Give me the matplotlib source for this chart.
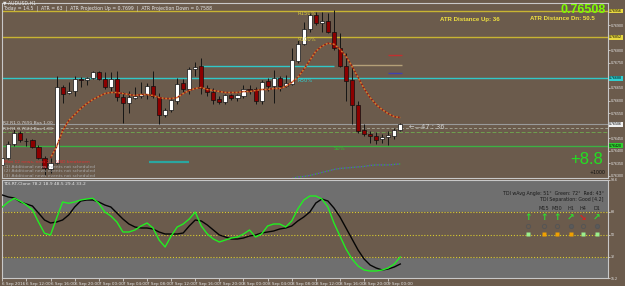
import matplotlib
matplotlib.use("Agg")
import matplotlib.pyplot as plt
import numpy as np

# ---------------- data ----------------
opens  = [0.76344,0.76372,0.76428,0.76472,0.76440,0.76444,0.76416,0.76372,0.76328,0.76352,
          0.76652,0.76632,0.76640,0.76684,0.76680,0.76688,0.76712,0.76684,0.76652,0.76684,
          0.76616,0.76592,0.76612,0.76620,0.76628,0.76656,0.76616,0.76544,0.76564,0.76600,
          0.76668,0.76644,0.76724,0.76736,0.76648,0.76636,0.76608,0.76596,0.76624,0.76612,
          0.76620,0.76644,0.76644,0.76600,0.76676,0.76656,0.76688,0.76656,0.76664,0.76756,
          0.76824,0.76884,0.76940,0.76908,0.76916,0.76872,0.76808,0.76736,0.76680,0.76584,
          0.76484,0.76468,0.76460,0.76448,0.76456,0.76460,0.76484]
highs  = [0.76384,0.76440,0.76488,0.76480,0.76452,0.76448,0.76424,0.76380,0.76372,0.76696,
          0.76660,0.76672,0.76696,0.76692,0.76692,0.76716,0.76716,0.76712,0.76712,0.76716,
          0.76636,0.76640,0.76652,0.76672,0.76668,0.76716,0.76632,0.76572,0.76608,0.76688,
          0.76684,0.76732,0.76752,0.76768,0.76660,0.76648,0.76620,0.76628,0.76628,0.76628,
          0.76660,0.76660,0.76652,0.76680,0.76688,0.76720,0.76696,0.76700,0.76808,0.76844,
          0.76912,0.76952,0.76952,0.76952,0.76948,0.76960,0.76868,0.76788,0.76732,0.76600,
          0.76508,0.76480,0.76476,0.76468,0.76480,0.76492,0.76512]
lows   = [0.76336,0.76368,0.76420,0.76436,0.76420,0.76412,0.76368,0.76304,0.76312,0.76348,
          0.76592,0.76628,0.76620,0.76652,0.76660,0.76684,0.76680,0.76644,0.76640,0.76600,
          0.76512,0.76552,0.76608,0.76612,0.76608,0.76612,0.76508,0.76536,0.76556,0.76588,
          0.76636,0.76628,0.76696,0.76628,0.76620,0.76588,0.76588,0.76588,0.76604,0.76600,
          0.76612,0.76628,0.76588,0.76588,0.76640,0.76592,0.76640,0.76652,0.76660,0.76748,
          0.76820,0.76872,0.76900,0.76872,0.76868,0.76800,0.76732,0.76600,0.76508,0.76472,
          0.76460,0.76432,0.76428,0.76432,0.76424,0.76448,0.76480]
closes = [0.76372,0.76428,0.76472,0.76444,0.76438,0.76416,0.76372,0.76332,0.76352,0.76652,
          0.76628,0.76640,0.76684,0.76682,0.76688,0.76712,0.76684,0.76652,0.76684,0.76616,
          0.76592,0.76616,0.76620,0.76628,0.76656,0.76620,0.76544,0.76564,0.76604,0.76664,
          0.76644,0.76724,0.76732,0.76648,0.76636,0.76604,0.76596,0.76624,0.76612,0.76624,
          0.76644,0.76642,0.76600,0.76672,0.76656,0.76688,0.76656,0.76668,0.76760,0.76824,
          0.76884,0.76940,0.76908,0.76916,0.76872,0.76808,0.76736,0.76676,0.76584,0.76480,
          0.76468,0.76460,0.76444,0.76456,0.76464,0.76484,0.76508]

ma_start = 8
ma_values = [0.76372,0.76416,0.76480,0.76520,0.76544,0.76568,0.76588,0.76604,0.76616,0.76628,
             0.76632,0.76632,0.76628,0.76624,0.76620,0.76624,0.76624,0.76620,0.76612,0.76608,
             0.76608,0.76612,0.76628,0.76640,0.76648,0.76652,0.76644,0.76640,0.76636,0.76632,
             0.76632,0.76632,0.76636,0.76636,0.76640,0.76644,0.76644,0.76648,0.76648,0.76656,
             0.76672,0.76692,0.76724,0.76760,0.76796,0.76816,0.76828,0.76824,0.76804,0.76776,
             0.76736,0.76692,0.76648,0.76612,0.76584,0.76564,0.76548,0.76536,0.76532]

low_start = 48
low_curve = [0.76290,0.76296,0.76298,0.76302,0.76308,0.76314,0.76320,0.76326,0.76330,0.76332,
             0.76334,0.76336,0.76338,0.76342,0.76344,0.76344,0.76344,0.76346,0.76348]

tdi_green = [72,76,79,76.6,73.6,69.6,60,51,49.6,63,76,75,76,77.6,78.4,79,75,68,64.8,60,
             52,52,53.6,56.8,59.2,55.2,45.6,40,48.8,56,58.4,62.4,68,56.8,50.4,46.4,44,45.6,47.2,48,
             50.4,53.6,48,50.4,56.8,58.4,58.4,56,60.8,70.4,77.6,80.8,80.8,78.4,72,59.2,48.8,38.4,30.4,24.8,
             21.6,20.8,20.8,21.6,23.2,26.4,32]
tdi_signal = [81.6,80,79.2,76,74.4,72.8,67.2,61.6,59.2,60,61.6,65.6,72,76.8,77.6,77.6,76,73.6,72,67.2,
              62.4,58.4,56,55.2,55.2,54.4,52,50.4,50.4,50.4,51.2,56.8,61.6,60.8,57.6,53.6,49.6,48,46.4,46.4,
              47.2,48.8,49.6,51.2,52,52.8,54.4,55.2,56.8,60.8,64,68,75.2,78.4,76.8,71.2,64,55.2,46.4,37.6,
              30.4,25.6,23.2,21.6,22.4,24,26.4]

atr_up, atr_dn = 0.76956, 0.76852
pivot_cyan = 0.76688
pivot_cyan_short = 0.76736
cur_line = 0.76506
green_level = 0.76420
teal_level = 0.76356
red_short, blue_short = 0.76780, 0.76708

time_labels = ["6 Sep 2016", "6 Sep 12:00", "6 Sep 16:00", "6 Sep 20:00", "7 Sep 00:00",
               "7 Sep 04:00", "7 Sep 08:00", "7 Sep 12:00", "7 Sep 16:00", "7 Sep 20:00",
               "8 Sep 00:00", "8 Sep 04:00", "8 Sep 08:00", "8 Sep 12:00", "8 Sep 16:00",
               "8 Sep 20:00", "9 Sep 00:00"]
time_ticks = list(range(0, 65, 4))

price_ticks = [0.7630, 0.7635, 0.7640, 0.7645, 0.7650, 0.7655, 0.7660, 0.7665,
               0.7670, 0.7675, 0.7680, 0.7685, 0.7690, 0.7695]

tf_labels = ["M5", "M15", "M30", "H1", "H4", "D1"]
tf_arrows = ["↑", "↑", "↑", "↗", "↘", "↗"]
tf_arrow_colors = ["#2EE02E", "#2EE02E", "#2EE02E", "#2EE02E", "#E02020", "#2EE02E"]
tf_circle_fill = ["none", "none", "none", "#5A5A5A", "none", "#5A5A5A"]
tf_square_colors = ["#9BF08C", "#F0A000", "#F0A000", "#F0A000", "#9BF08C", "#9BF08C"]

# ---------------- style ----------------
W, H = 625, 286
BROWN = '#6B5B4C'
GRAY = '#6F6F6F'
LGRAY = '#C8C8C8'
TXT = '#E6E6E6'
AXFS = 2.6
AXFONT = 'Liberation Sans'

fig = plt.figure(figsize=(W / 100, H / 100), dpi=100)
fig.patch.set_facecolor(BROWN)


def fbox(x0, y0, x1, y1):
    return [x0 / W, 1 - y1 / H, (x1 - x0) / W, (y1 - y0) / H]


def fpt(x, y):
    return x / W, 1 - y / H


ax = fig.add_axes(fbox(2, 3, 608, 178))
ax.set_facecolor(BROWN)
ax.set_xlim(-0.05, 100.45)
ax.set_ylim(0.76292, 0.76988)
for s in ax.spines.values():
    s.set_color(LGRAY)
    s.set_linewidth(0.8)

n = len(opens)
idx = np.arange(n)

# horizontal levels
ax.axhline(atr_up, color='#C8B432', lw=1.0, zorder=1)
ax.axhline(atr_dn, color='#C8B432', lw=1.0, zorder=1)
ax.axhline(pivot_cyan, color='#30C8C8', lw=1.0, zorder=1)
ax.hlines(pivot_cyan_short, 33, 55, color='#30C8C8', lw=1.0, zorder=1)
ax.hlines(pivot_cyan_short + 0.00004, 58, 66.3, color='#B4A078', lw=1.0, zorder=1)
ax.hlines(red_short, 64, 66.3, color='#C03030', lw=1.0, zorder=1)
ax.hlines(blue_short, 64, 66.3, color='#4040B0', lw=1.0, zorder=1)
ax.axhline(cur_line, color='#9A9A9A', lw=0.8, zorder=1)
ax.axhline(cur_line - 0.00014, color='#A0A090', lw=0.7, ls=(0, (3, 2)), zorder=1)
ax.axhline(cur_line - 0.00030, color='#6FA050', lw=0.7, ls=(0, (4, 2)), zorder=1)
ax.axhline(green_level, color='#3CB043', lw=1.0, zorder=1)
ax.hlines(teal_level, 24.4, 31, color='#2AA6A0', lw=1.6, zorder=1)

# candles
for i in range(n):
    o, h, l, c = opens[i], highs[i], lows[i], closes[i]
    ax.vlines(i, l, h, color='#151515', lw=0.7, zorder=2)
    bull = c >= o
    ax.bar(i, abs(c - o) if abs(c - o) > 0 else 0.000005, bottom=min(o, c), width=0.68,
           color='#FFFFFF' if bull else '#8C0000', edgecolor='#101010', lw=0.5, zorder=3)

# moving average (dotted red/orange)
ma_x = np.arange(ma_start, ma_start + len(ma_values))
ax.plot(ma_x, ma_values, color='#9A1A10', lw=1.1, ls=(0, (1.2, 1.2)), zorder=4)
ax.plot(ma_x, ma_values, color='#D8782A', lw=1.1, ls=(1.2, (1.2, 1.2)), zorder=4)

lx = np.arange(low_start, low_start + len(low_curve))
ax.plot(lx, low_curve, color='#6A40C8', lw=1.0, ls=(0, (1.2, 1.2)), zorder=4)
ax.plot(lx, low_curve, color='#40A040', lw=1.0, ls=(1.2, (1.2, 1.2)), zorder=4)

# right price axis
highlighted = [(atr_up, '#E8D840'), (atr_dn, '#E8D840'), (pivot_cyan, '#30D0D0'),
               (cur_line, '#F0F0F0'), (green_level, '#30D030')]
shown_ticks = [p for p in price_ticks if all(abs(p - hv) > 0.00018 for hv, _ in highlighted)]
ax.yaxis.tick_right()
ax.set_yticks(shown_ticks)
ax.set_yticklabels([f"{p:.5f}" for p in shown_ticks], family=AXFONT)
ax.tick_params(axis='y', colors=TXT, labelsize=AXFS, length=1.2, width=0.5, pad=0.6)
ax.tick_params(axis='x', bottom=False, labelbottom=False)

for p, fc in highlighted:
    ax.text(1.0022, p, f"{p:.5f}", transform=ax.get_yaxis_transform(), fontsize=AXFS,
            family=AXFONT, color='#000000', va='center', ha='left',
            bbox=dict(boxstyle='square,pad=0.12', fc=fc, ec='none'))

# level labels
ax.text(49, atr_up - 0.00008, "R150%", color='#D8C840', fontsize=3.8, va='center')
ax.text(49, atr_dn - 0.00008, "R100%", color='#D8C840', fontsize=3.8, va='center')
ax.text(49, pivot_cyan - 0.00010, "R50%", color='#30D0D0', fontsize=3.8, va='center')
ax.text(55, green_level - 0.00010, "S0%", color='#30C030', fontsize=3.8, va='center')
ax.text(67.5, cur_line - 0.00012, "←—47 : 36", color='#D0D0D0', fontsize=4.8, va='center')

# ---------------- lower TDI panel ----------------
ax2 = fig.add_axes(fbox(2, 180, 608, 278))
ax2.set_facecolor(GRAY)
ax2.set_xlim(-0.05, 100.45)
ax2.set_ylim(15.2, 93.6)
ax2.axhspan(32, 68, color=BROWN, zorder=0)
for lv in (68, 50, 32):
    ax2.axhline(lv, color='#D8CC30', lw=0.8, ls=(0, (1, 1.6)), zorder=1)
for s in ax2.spines.values():
    s.set_color(LGRAY)
    s.set_linewidth(0.8)
ax2.plot(idx, tdi_signal, color='#050505', lw=1.0, zorder=3)
ax2.plot(idx, tdi_green, color='#22EE22', lw=1.0, zorder=4)

ax2.yaxis.tick_right()
ax2.set_yticks([93.6, 68, 50, 32, 15.2])
ax2.set_yticklabels(["93.6", "68", "50", "32", "15.2"], family=AXFONT)
ax2.tick_params(axis='y', colors=TXT, labelsize=AXFS, length=1.2, width=0.5, pad=0.6)
ax2.set_xticks(time_ticks)
ax2.set_xticklabels(time_labels)
ax2.tick_params(axis='x', colors=TXT, labelsize=3.0, length=2, width=0.5, pad=1)
for t in ax2.get_xticklabels():
    t.set_ha('left')

# timeframe grid
tf_x = [528, 544, 557, 571, 583, 597]
for k, xp in enumerate(tf_x):
    if k > 0:
        fig.text(*fpt(xp, 209), tf_labels[k], color='#202020', fontsize=3.6, ha='center', va='center')
    fig.text(*fpt(xp, 218), tf_arrows[k], color=tf_arrow_colors[k], fontsize=6.5,
             ha='center', va='center', fontweight='bold')
    fig.lines.append(plt.Line2D([xp / W], [1 - 226 / H], marker='o', ms=3.0,
                                mfc=tf_circle_fill[k], mec='#555555', mew=0.7,
                                transform=fig.transFigure))
    fig.lines.append(plt.Line2D([xp / W], [1 - 234 / H], marker='s', ms=3.0,
                                mfc=tf_square_colors[k], mec='none',
                                transform=fig.transFigure))

# ---------------- texts ----------------
fig.text(*fpt(3, 3), "▼ AUDUSD,H1", color=TXT, fontsize=3.3, va='center')
fig.text(*fpt(3, 8), "Today = 14.5  |  ATR = 63  |  ATR Projection Up = 0.7699  |  ATR Projection Down = 0.7588",
         color=TXT, fontsize=3.3, va='center')
fig.text(*fpt(606, 10), "0.76508", color='#7CFC00', fontsize=9, fontweight='bold',
         family='Liberation Sans', ha='right', va='center')
fig.text(*fpt(440, 19), "ATR Distance Up: 36", color='#F0E040', fontsize=4.4, fontweight='bold',
         family='Liberation Sans', va='center')
fig.text(*fpt(530, 19), "ATR Distance Dn: 50.5", color='#F0E040', fontsize=4.4, fontweight='bold',
         family='Liberation Sans', va='center')
fig.text(*fpt(570, 160), "+8.8", color='#22E022', fontsize=12, family='Liberation Sans',
         va='center')
fig.text(*fpt(606, 172), "+1000", color='#101010', fontsize=3.4, ha='right', va='center')

fig.text(*fpt(3, 123), "R2 R1 0.7691 Bus 1.00", color='#D8D8D8', fontsize=3.2, va='center')
fig.text(*fpt(3, 129), "R3 R1 0.7624 Bus 1.00", color='#D8D8D8', fontsize=3.2, va='center')
fig.text(*fpt(4, 162), "Mon 12 news, next 2 ... USD breakeven", color='#E03030', fontsize=3.2, va='center')
for k, yy in enumerate((167, 171.5, 176)):
    fig.text(*fpt(4, yy), f"({k + 1}) Additional news events not scheduled", color='#A8A8A8',
             fontsize=3.2, va='center')

fig.text(*fpt(3, 184), "TDI-RT-Clone 78.2 18.9 48.5 29.4 33.2", color=TXT, fontsize=3.2, va='center')
fig.text(*fpt(604, 193), "TDI wAvg Angle: 51°  Green: 72°  Red: 43°", color='#1A1A1A',
         fontsize=3.4, ha='right', va='center')
fig.text(*fpt(604, 199), "TDI Separation: Good [4.2]", color='#1A1A1A', fontsize=3.4,
         ha='right', va='center')

fig.savefig("out.png", dpi=100, facecolor=BROWN)
